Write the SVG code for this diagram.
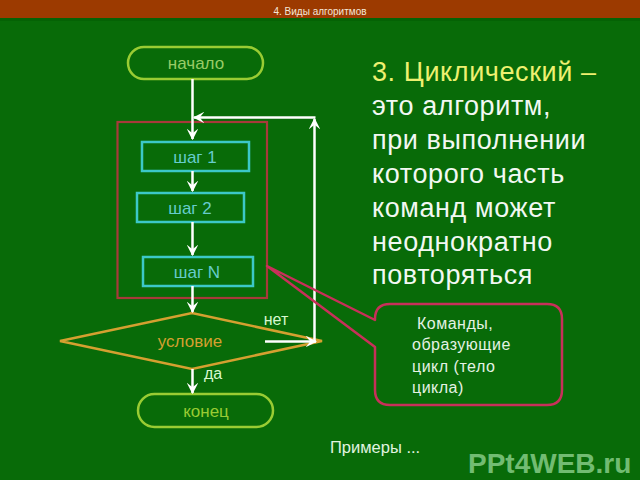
<svg xmlns="http://www.w3.org/2000/svg" width="640" height="480" viewBox="0 0 640 480">
<style>
text{font-family:"Liberation Sans",Arial,sans-serif}
.ln{stroke:#ffffff;stroke-width:2.5;fill:none}
.term{fill:none;stroke:#99cc33;stroke-width:2.5}
.box{fill:none;stroke:#3cc8c8;stroke-width:2.5}
.bt{fill:#66cccc;font-size:17px;text-anchor:middle}
.big{font-size:27px;fill:#f2f8f2;letter-spacing:0.6px}
.small{font-size:16px;fill:#e4f2e4;letter-spacing:0.5px}
</style>
<defs>
<marker id="ah" viewBox="0 0 10 10" refX="9" refY="5" markerWidth="4.6" markerHeight="4.6" orient="auto" markerUnits="strokeWidth">
<path d="M0,0 L10,5 L0,10 L4,5 Z" fill="#ffffff"/>
</marker>
</defs>
<rect x="0" y="0" width="640" height="480" fill="#086b08"/>
<rect x="0" y="0" width="640" height="18" fill="#9c3a00"/>
<rect x="0" y="18" width="640" height="3" fill="#056205"/>
<text x="320" y="15" font-size="10" fill="#f4e6d8" text-anchor="middle">4. Виды алгоритмов</text>

<g id="loop-body">
<rect x="117.5" y="122" width="149.5" height="176" fill="none" stroke="#a83a3a" stroke-width="2.2"/>
</g>

<g id="start">
<rect class="term" x="128" y="47" width="135" height="32" rx="16"/>
<text x="196" y="69" font-size="17" fill="#99cc66" text-anchor="middle">начало</text>
</g>
<g id="step1">
<rect class="box" x="142" y="142" width="107" height="29"/>
<text class="bt" x="195" y="163">шаг 1</text>
</g>
<g id="step2">
<rect class="box" x="137" y="193" width="107" height="29"/>
<text class="bt" x="190" y="214">шаг 2</text>
</g>
<g id="stepN">
<rect class="box" x="143" y="257" width="110" height="29"/>
<text class="bt" x="197" y="278">шаг N</text>
</g>
<g id="condition">
<polygon points="60,341 192,313 322,341 192,369" fill="none" stroke="#d4a030" stroke-width="2.5"/>
<text x="190" y="347" font-size="17" fill="#d4a030" text-anchor="middle">условие</text>
<text x="276" y="325" font-size="16" fill="#d8f8d0" text-anchor="middle">нет</text>
<text x="213" y="379" font-size="16" fill="#d8f8d0" text-anchor="middle">да</text>
</g>
<g id="end">
<rect class="term" x="138" y="394" width="135" height="33" rx="16.5"/>
<text x="206" y="417" font-size="17" fill="#99cc33" text-anchor="middle">конец</text>
</g>

<g id="connectors">
<line class="ln" x1="192.5" y1="79" x2="192.5" y2="139" marker-end="url(#ah)"/>
<line class="ln" x1="192.5" y1="171" x2="192.5" y2="191" marker-end="url(#ah)"/>
<line class="ln" x1="192.5" y1="222" x2="192.5" y2="255" marker-end="url(#ah)"/>
<line class="ln" x1="192.5" y1="286" x2="192.5" y2="312" marker-end="url(#ah)"/>
<line class="ln" x1="192.5" y1="369" x2="192.5" y2="393" marker-end="url(#ah)"/>
<line class="ln" x1="265" y1="341.5" x2="316" y2="341.5" marker-end="url(#ah)"/>
<line class="ln" x1="314.5" y1="342.5" x2="314.5" y2="119" marker-end="url(#ah)"/>
<line class="ln" x1="315.5" y1="117.5" x2="194" y2="117.5" marker-end="url(#ah)"/>
</g>

<g id="callout">
<path d="M390,304 H547 Q562,304 562,319 V390 Q562,405 547,405 H390 Q375,405 375,390 V347 L267,266 L375,320 V319 Q375,304 390,304 Z" fill="none" stroke="#c8305a" stroke-width="2.5" stroke-linejoin="round"/>
<text class="small" x="412" y="329" xml:space="preserve"> Команды,</text>
<text class="small" x="412" y="350">образующие</text>
<text class="small" x="412" y="372">цикл (тело</text>
<text class="small" x="412" y="393">цикла)</text>
</g>

<g id="description">
<text class="big" x="372" y="81" style="fill:#eef070">3. Циклический –</text>
<text class="big" x="372" y="115">это алгоритм,</text>
<text class="big" x="372" y="149">при выполнении</text>
<text class="big" x="372" y="183">которого часть</text>
<text class="big" x="372" y="217">команд может</text>
<text class="big" x="372" y="251">неоднократно</text>
<text class="big" x="372" y="284">повторяться</text>
</g>

<text x="330" y="453" font-size="16.5" fill="#e0f4e0">Примеры ...</text>
<text x="468" y="473" font-size="28" font-weight="bold" fill="#72bc72">PPt4WEB.ru</text>
</svg>
